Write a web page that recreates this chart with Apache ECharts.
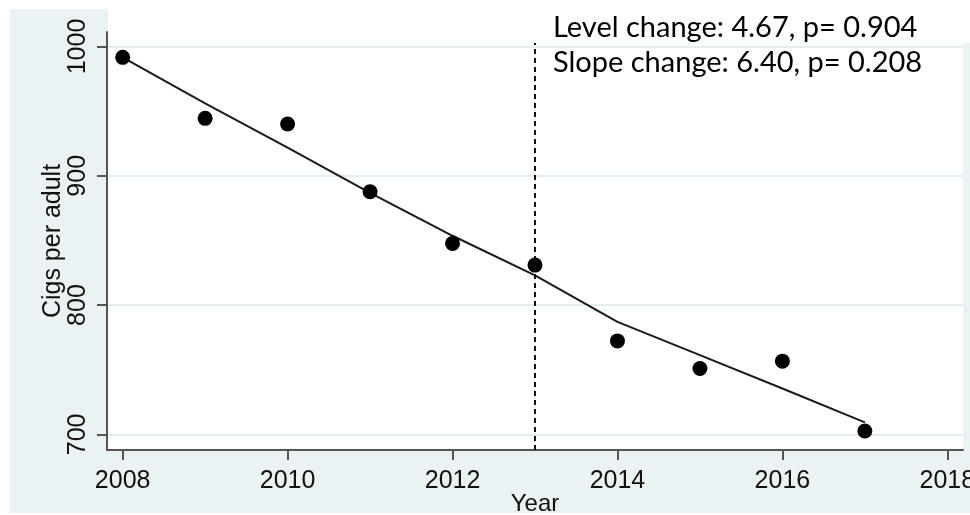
<!DOCTYPE html>
<html>
<head>
<meta charset="utf-8">
<script src="https://cdn.jsdelivr.net/npm/echarts@6/dist/echarts.min.js"></script>
<style>
  html, body { margin: 0; padding: 0; background: #ffffff; }
  #chart { width: 970px; height: 515px; }
</style>
</head>
<body>
<div id="chart"></div>
<script>
// Annual cigarette consumption per adult with segmented-regression fit
const years = [2008, 2009, 2010, 2011, 2012, 2013, 2014, 2015, 2016, 2017];
const observed = [991.6, 944.4, 940.0, 887.6, 847.7, 830.9, 772.3, 750.9, 756.6, 702.6];
const fitted = [991.5, 956.0, 921.7, 886.8, 853.6, 823.0, 787.0, 761.3, 735.5, 709.3];
const xTicks = [2008, 2010, 2012, 2014, 2016, 2018];
const yTicks = [700, 800, 900, 1000];
const interventionYear = 2013;
const annotationLines = ['Level change: 4.67, p= 0.904', 'Slope change: 6.40, p= 0.208'];

const bg = '#eaf2f3';
const axisColor = '#555555';
const labelFont = '"Liberation Sans", Arial, sans-serif';

const chart = echarts.init(document.getElementById('chart'), null, { renderer: 'canvas' });

chart.setOption({
  animation: false,
  backgroundColor: 'transparent',
  graphic: [
    { type: 'rect', z: -10, silent: true,
      shape: { x: 10, y: 9, width: 960, height: 504 }, style: { fill: bg } },
    { type: 'rect', z: 50, silent: true,
      shape: { x: 108, y: 0, width: 862, height: 43 }, style: { fill: '#ffffff' } },
    { type: 'text', z: 60, silent: true,
      style: { x: 553, y: 28, text: annotationLines[0], font: '29px Lato, "Open Sans", sans-serif',
               fill: '#000000', verticalAlign: 'middle', align: 'left' } },
    { type: 'text', z: 60, silent: true,
      style: { x: 553, y: 63, text: annotationLines[1], font: '29px Lato, "Open Sans", sans-serif',
               fill: '#000000', verticalAlign: 'middle', align: 'left' } }
  ],
  grid: {
    left: 107, top: 32, width: 856, height: 418,
    outerBoundsMode: 'none', containLabel: false,
    show: true, backgroundColor: '#ffffff', borderWidth: 0
  },
  xAxis: {
    type: 'value', min: 2007.81, max: 2018.19,
    name: 'Year', nameLocation: 'middle', nameGap: 42, nameMoveOverlap: false,
    nameTextStyle: { fontFamily: labelFont, fontSize: 24, color: '#111111' },
    axisLine: { show: true, onZero: false, lineStyle: { color: axisColor, width: 2 } },
    axisTick: { show: true, inside: false, length: 10, customValues: xTicks,
                lineStyle: { color: axisColor, width: 2 } },
    axisLabel: { customValues: xTicks, margin: 19, fontFamily: labelFont, fontSize: 25,
                 color: '#111111', formatter: v => String(v) },
    splitLine: { show: false }
  },
  yAxis: {
    type: 'value', min: 687.9, max: 1011.2,
    name: 'Cigs per adult', nameLocation: 'middle', nameGap: 41, nameRotate: 90,
    nameMoveOverlap: false,
    nameTextStyle: { fontFamily: labelFont, fontSize: 25, color: '#111111' },
    axisLine: { show: true, onZero: false, lineStyle: { color: axisColor, width: 2 } },
    axisTick: { show: true, inside: false, length: 10, customValues: yTicks,
                lineStyle: { color: axisColor, width: 2 } },
    axisLabel: { customValues: yTicks, rotate: 90, margin: 16, fontFamily: labelFont, fontSize: 25,
                 color: '#111111', formatter: v => String(v) },
    splitLine: { show: true, lineStyle: { color: '#e4eef0', width: 2 } }
  },
  series: [
    {
      type: 'line', name: 'Fitted', z: 3,
      data: years.map((y, i) => [y, fitted[i]]),
      showSymbol: false, symbol: 'none',
      lineStyle: { color: '#1a1a1a', width: 2 },
      markLine: {
        silent: true, symbol: 'none', label: { show: false },
        lineStyle: { color: '#111111', type: [5, 4], width: 2 },
        data: [{ xAxis: interventionYear }]
      }
    },
    {
      type: 'scatter', name: 'Observed', z: 4,
      data: years.map((y, i) => [y, observed[i]]),
      symbol: 'circle', symbolSize: 15,
      itemStyle: { color: '#000000', opacity: 1 }
    }
  ]
});
</script>
</body>
</html>
